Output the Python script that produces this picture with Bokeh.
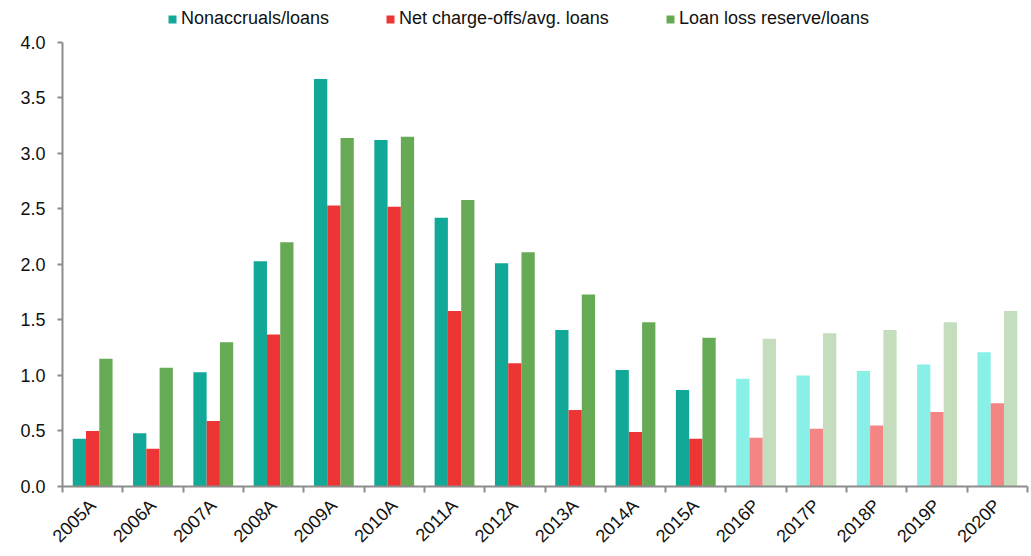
import math
from bokeh.plotting import figure
from bokeh.models import ColumnDataSource, Legend, LegendItem, FixedTicker, Range1d
from bokeh.embed import file_html
from bokeh.resources import INLINE

categories = ["2005A", "2006A", "2007A", "2008A", "2009A", "2010A", "2011A", "2012A",
              "2013A", "2014A", "2015A", "2016P", "2017P", "2018P", "2019P", "2020P"]
nonaccruals = [0.43, 0.48, 1.03, 2.03, 3.67, 3.12, 2.42, 2.01, 1.41, 1.05, 0.87,
               0.97, 1.00, 1.04, 1.10, 1.21]
net_chargeoffs = [0.50, 0.34, 0.59, 1.37, 2.53, 2.52, 1.58, 1.11, 0.69, 0.49, 0.43,
                  0.44, 0.52, 0.55, 0.67, 0.75]
loan_loss_reserve = [1.15, 1.07, 1.30, 2.20, 3.14, 3.15, 2.58, 2.11, 1.73, 1.48, 1.34,
                     1.33, 1.38, 1.41, 1.48, 1.58]
y_ticks = [0.0, 0.5, 1.0, 1.5, 2.0, 2.5, 3.0, 3.5, 4.0]
series_names = ["Nonaccruals/loans", "Net charge-offs/avg. loans", "Loan loss reserve/loans"]
actual_colors = ["#12A898", "#EE3535", "#67AA55"]
projected_colors = ["#88F0E6", "#F48585", "#C3DDBD"]

FONT = "Liberation Sans"
FS = "18px"
n = len(categories)
centers = [i + 0.5 for i in range(n)]

# frame: top at 2px, 4.0 at 42px, 0 at 487px
y_top = 4.0 * 485.0 / 445.0

p = figure(width=1031, height=556, output_backend="svg", toolbar_location=None,
           x_range=Range1d(0, n), y_range=Range1d(0, y_top),
           min_border_left=62, min_border_right=4, min_border_bottom=69, min_border_top=2)
p.outline_line_color = None
p.xgrid.grid_line_color = None
p.ygrid.grid_line_color = None

bar_w = 0.22
offsets = [-bar_w, 0.0, bar_w]
items = []
for values, name, off, ca, cp in zip([nonaccruals, net_chargeoffs, loan_loss_reserve],
                                     series_names, offsets, actual_colors, projected_colors):
    colors = [cp if c.endswith("P") else ca for c in categories]
    src = ColumnDataSource(dict(x=[c + off for c in centers], top=values, color=colors))
    r = p.vbar(x="x", top="top", width=bar_w, bottom=0, source=src,
               fill_color="color", line_color=None)
    items.append(LegendItem(label=name, renderers=[r], index=0))

legend = Legend(items=items, orientation="horizontal", location=(105, 457),
                label_text_font=FONT, label_text_font_size=FS,
                label_text_color="#111111", glyph_width=10, glyph_height=10,
                spacing=56, padding=0, margin=0, border_line_color=None,
                background_fill_alpha=0, label_standoff=4, label_height=18)
p.add_layout(legend, "center")

# x axis
p.xaxis.ticker = FixedTicker(ticks=centers, minor_ticks=list(range(n + 1)))
p.xaxis.major_label_overrides = {c: lab for c, lab in zip(centers, categories)}
p.xaxis.major_tick_out = 0
p.xaxis.major_tick_in = 0
p.xaxis.minor_tick_out = 6
p.xaxis.minor_tick_in = 0
p.xaxis.minor_tick_line_color = "#8c8c8c"
p.xaxis.minor_tick_line_width = 2
p.xaxis.axis_line_color = "#8c8c8c"
p.xaxis.axis_line_width = 2
p.xaxis.major_label_orientation = math.pi / 4
p.xaxis.major_label_text_font = FONT
p.xaxis.major_label_text_font_size = FS
p.xaxis.major_label_text_color = "#111111"
p.xaxis.major_label_standoff = 10

# y axis
p.yaxis.bounds = (0, 4.0)
p.yaxis.ticker = FixedTicker(ticks=y_ticks)
p.yaxis.major_label_overrides = {t: f"{t:.1f}" for t in y_ticks}
p.yaxis.major_tick_out = 5
p.yaxis.major_tick_in = 0
p.yaxis.minor_tick_out = 0
p.yaxis.minor_tick_in = 0
p.yaxis.major_tick_line_color = "#8c8c8c"
p.yaxis.major_tick_line_width = 2
p.yaxis.axis_line_color = "#8c8c8c"
p.yaxis.axis_line_width = 2
p.yaxis.major_label_text_font = FONT
p.yaxis.major_label_text_font_size = FS
p.yaxis.major_label_text_color = "#111111"
p.yaxis.major_label_standoff = 12

open("out.html", "w").write(file_html(p, INLINE))
